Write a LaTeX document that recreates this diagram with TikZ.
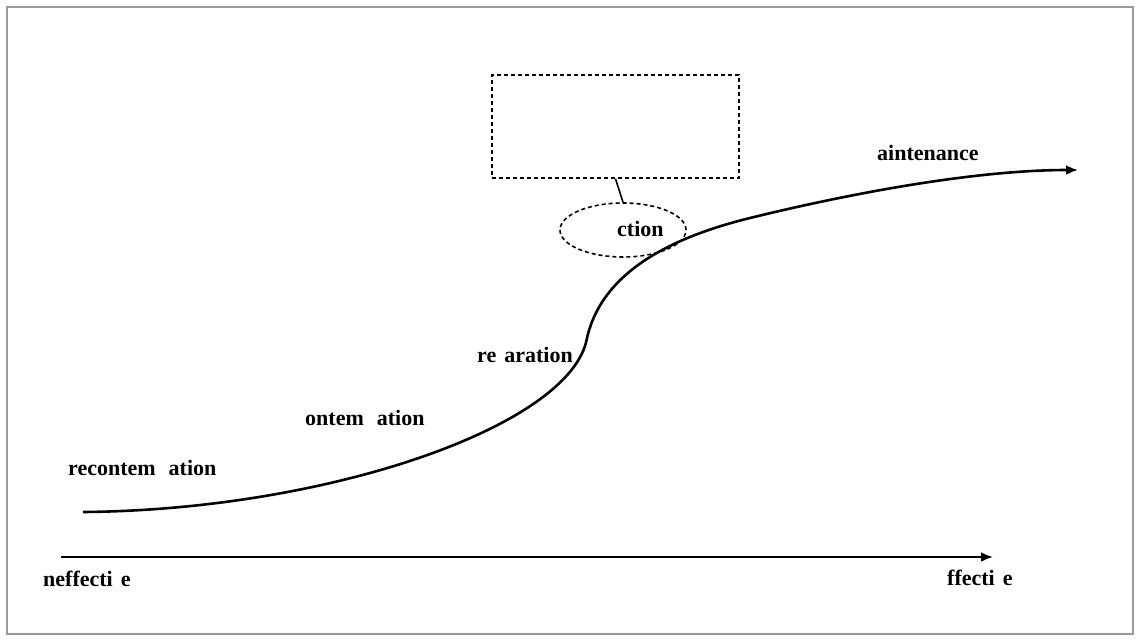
\documentclass[tikz,border=0pt]{standalone}
\usepackage{fontspec}
\setmainfont{Liberation Serif}
\usetikzlibrary{arrows.meta,shapes.geometric}
\begin{document}
\begin{tikzpicture}[x=1pt,y=-1pt,
  lbl/.style={font=\fontsize{22}{26}\selectfont\bfseries, inner sep=0pt, anchor=base west},
  curve/.style={line width=2.6pt, -{Latex[length=12pt,width=10pt]}},
  dashbox/.style={draw, dash pattern=on 4pt off 3pt, line width=1.6pt, rectangle, minimum width=247pt, minimum height=103pt, inner sep=0pt},
  dashell/.style={draw, dash pattern=on 4pt off 3pt, line width=1.6pt, ellipse, minimum width=126pt, minimum height=54pt, inner sep=0pt}]
\useasboundingbox (0,0) rectangle (1139,642);
\draw[gray!80, line width=1.5pt] (7,7) rectangle (1133,634);
% axis
\coordinate (a0) at (61,557);
\coordinate (a1) at (993,557);
\draw[curve] (a0) -- (a1);
% curve
\coordinate (c0) at (83,512);
\coordinate (c1) at (587,338);
\coordinate (c2) at (750,218);
\coordinate (c3) at (1078,170);
\draw[curve] (c0) .. controls (330,510) and (572,425) .. (c1)
  .. controls (598,290) and (640,245) .. (c2)
  .. controls (860,191) and (980,170) .. (c3);
% box and ellipse
\node[dashbox] (box) at (615.5,126.5) {};
\node[dashell] (ell) at (623,230) {};
\draw[line width=1.6pt] (box.south) -- (ell.north);
% labels
\node[lbl] (pre) at (68,475) {recontem\hspace{13pt}ation};
\node[lbl] (con) at (305,425) {ontem\hspace{13pt}ation};
\node[lbl] (prep) at (477,362) {re\hspace{8pt}aration};
\node[lbl] (act) at (617,236) {ction};
\node[lbl] (main) at (877,160) {aintenance};
\node[lbl] (ineff) at (43,586) {neffecti\hspace{8pt}e};
\node[lbl] (eff) at (947,585) {ffecti\hspace{8pt}e};
\end{tikzpicture}
\end{document}
